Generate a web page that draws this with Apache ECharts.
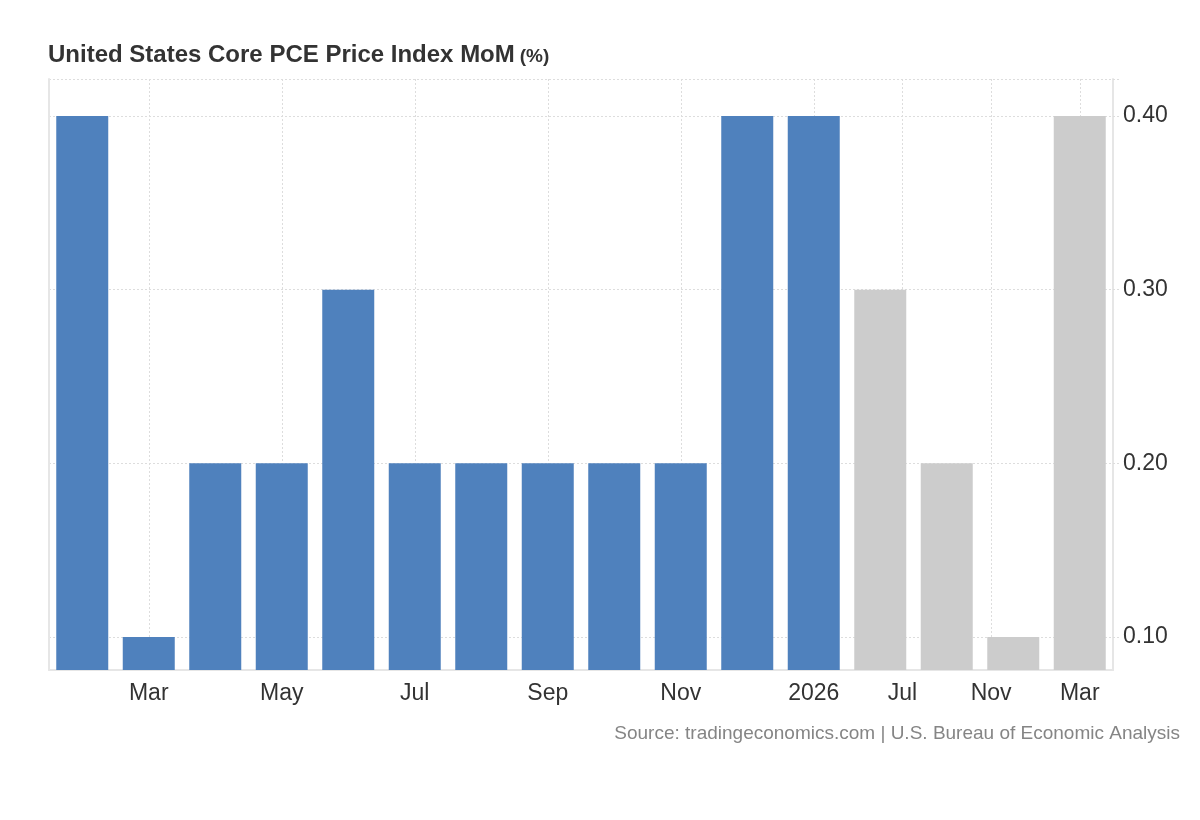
<!DOCTYPE html>
<html>
<head>
<meta charset="utf-8">
<script src="https://cdn.jsdelivr.net/npm/echarts@6/dist/echarts.min.js"></script>
<style>
html,body{margin:0;padding:0;background:#fff;}
#chart{width:1200px;height:820px;}
</style>
</head>
<body>
<div id="chart"></div>
<script>
// ---- Data ----
var categories = ['2025-02','2025-03','2025-04','2025-05','2025-06','2025-07','2025-08','2025-09','2025-10','2025-11','2025-12','2026-01','2026-06','2026-09','2026-12','2027-03'];
var values = [0.4, 0.1, 0.2, 0.2, 0.3, 0.2, 0.2, 0.2, 0.2, 0.2, 0.4, 0.4, 0.3, 0.2, 0.1, 0.4];
var forecastFrom = 12; // index of first forecast bar
var tickDates = ['2025-03','2025-05','2025-07','2025-09','2025-11','2026-01','2026-07','2026-11','2027-03'];
var tickLabels = ['Mar','May','Jul','Sep','Nov','2026','Jul','Nov','Mar'];
var yTicks = [0.1, 0.2, 0.3, 0.4];
var title = 'United States Core PCE Price Index MoM';
var unit = '(%)';
var source = 'Source: tradingeconomics.com | U.S. Bureau of Economic Analysis';

// ---- Helpers ----
function monthNum(s){ var p = s.split('-'); return (+p[0]) * 12 + (+p[1]) - 1; }
var catMonths = categories.map(monthNum);
function posOf(dateStr){
  var m = monthNum(dateStr);
  for (var i = 0; i < catMonths.length - 1; i++) {
    if (m >= catMonths[i] && m <= catMonths[i+1]) {
      return i + (m - catMonths[i]) / (catMonths[i+1] - catMonths[i]);
    }
  }
  return catMonths.length - 1;
}
var tickPos = tickDates.map(posOf);
var labelByPos = {};
tickPos.forEach(function(p, i){ labelByPos[p.toFixed(4)] = tickLabels[i]; });

var BLUE = '#4f81bd', GRAY = '#cccccc';
var barData = values.map(function(v, i){
  return { value: v, itemStyle: { color: i >= forecastFrom ? GRAY : BLUE } };
});

var FONT = '"Liberation Sans", Arial, sans-serif';
var yMin = 0.081, yMax = 0.4213;

var chart = echarts.init(document.getElementById('chart'), null, {renderer: 'canvas'});
chart.setOption({
  animation: false,
  backgroundColor: '#fff',
  textStyle: { fontFamily: FONT },
  title: {
    left: 48, top: 43, padding: 0,
    text: '{a|' + title + '} {b|' + unit + '}',
    textStyle: {
      rich: {
        a: { fontFamily: FONT, fontSize: 24, fontWeight: 'bold', color: '#333333' },
        b: { fontFamily: FONT, fontSize: 19, fontWeight: 'bold', color: '#333333', padding: [4,0,0,0] }
      }
    }
  },
  graphic: [{
    type: 'text', right: 20, top: 724,
    style: { text: source, font: '19px ' + FONT, fill: '#858585' }
  }],
  grid: { left: 49, right: 87, top: 79, bottom: 150, containLabel: false },
  xAxis: [{
    type: 'category',
    data: categories,
    boundaryGap: true,
    axisLine: { show: true, onZero: false, lineStyle: { color: '#e6e6e6', width: 2 } },
    axisTick: { show: false },
    axisLabel: { show: false },
    splitLine: { show: false }
  }, {
    type: 'value',
    min: -0.5, max: categories.length - 0.5,
    position: 'bottom',
    axisLine: { show: false, onZero: false },
    axisTick: { show: false, customValues: tickPos },
    axisLabel: {
      show: true, customValues: tickPos, margin: 12,
      fontSize: 23, color: '#333333', fontFamily: FONT,
      formatter: function(v){ return labelByPos[(+v).toFixed(4)] || ''; }
    },
    splitLine: { show: true, lineStyle: { color: '#dddddd', type: [2, 2], width: 1 } }
  }],
  yAxis: [{
    type: 'value',
    position: 'right',
    min: yMin, max: yMax,
    axisLine: { show: true, onZero: false, lineStyle: { color: '#e6e6e6', width: 2 } },
    axisTick: { show: true, length: 8, customValues: yTicks.concat([yMax]), lineStyle: { color: '#dddddd', type: [2, 2] } },
    axisLabel: {
      customValues: yTicks, margin: 10,
      fontSize: 23, color: '#333333', fontFamily: FONT,
      formatter: function(v){ return (+v).toFixed(2); }
    },
    splitLine: { show: true, lineStyle: { color: '#dddddd', type: [2, 2], width: 1 } }
  }, {
    type: 'value',
    position: 'left',
    min: yMin, max: yMax,
    axisLine: { show: true, onZero: false, lineStyle: { color: '#e6e6e6', width: 2 } },
    axisTick: { show: false },
    axisLabel: { show: false },
    splitLine: { show: false }
  }],
  series: [{
    type: 'bar',
    xAxisIndex: 0, yAxisIndex: 0,
    data: barData,
    barWidth: 52,
    z: 3
  }]
});
</script>
</body>
</html>
